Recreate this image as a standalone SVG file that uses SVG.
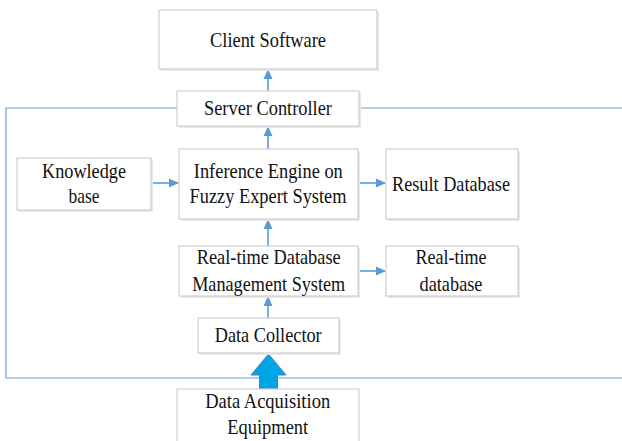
<svg xmlns="http://www.w3.org/2000/svg" width="622" height="441" viewBox="0 0 622 441">
<style>
.box{fill:#fff;stroke:#cfcfcf;stroke-width:1.2}
.sh{fill:#e8e8e8}
.t{font-family:"Liberation Serif","Times New Roman",serif;font-size:21.5px;fill:#111;text-anchor:middle}
.c{stroke:#5b9bd5;stroke-width:1.6;fill:none}
.frame{stroke:#6f9fd3;stroke-width:1.2;fill:none}
</style>
<defs>
<marker id="ah" markerWidth="10" markerHeight="10" refX="9" refY="5" orient="auto" markerUnits="userSpaceOnUse">
<path d="M0,0.5 L10,5 L0,9.5 Z" fill="#5b9bd5"/>
</marker>
</defs>
<rect x="0" y="0" width="622" height="441" fill="#fff"/>
<g id="frame"><path class="frame" d="M177,108 H6 V378 H622 M359,108 H622"/></g>
<g id="connectors">
<line class="c" x1="268" y1="91" x2="268" y2="70" marker-end="url(#ah)"/>
<line class="c" x1="268" y1="149" x2="268" y2="127" marker-end="url(#ah)"/>
<line class="c" x1="151" y1="183" x2="178" y2="183" marker-end="url(#ah)"/>
<line class="c" x1="358" y1="183" x2="385" y2="183" marker-end="url(#ah)"/>
<line class="c" x1="268" y1="246" x2="268" y2="220" marker-end="url(#ah)"/>
<line class="c" x1="358" y1="271" x2="385" y2="271" marker-end="url(#ah)"/>
<line class="c" x1="268" y1="318" x2="268" y2="297" marker-end="url(#ah)"/>
<path d="M259.5,389 V375 H251 L268.5,354 L286,375 H277.5 V389 Z" fill="#00a5e6" stroke="#3b86c6" stroke-width="1"/>
</g>
<g id="client"><rect class="sh" x="161" y="12" width="218" height="59"/><rect class="box" x="159" y="10" width="218" height="59"/><text class="t" x="268" y="47" textLength="116" lengthAdjust="spacingAndGlyphs">Client Software</text></g>
<g id="server"><rect class="sh" x="179" y="93" width="182" height="35"/><rect class="box" x="177" y="91" width="182" height="35"/><text class="t" x="268" y="115" textLength="128" lengthAdjust="spacingAndGlyphs">Server Controller</text></g>
<g id="knowledge"><rect class="sh" x="19" y="160" width="134" height="52"/><rect class="box" x="17" y="158" width="134" height="52"/><text class="t" x="84" y="178" textLength="84" lengthAdjust="spacingAndGlyphs">Knowledge</text><text class="t" x="84" y="203" textLength="31" lengthAdjust="spacingAndGlyphs">base</text></g>
<g id="inference"><rect class="sh" x="181" y="151" width="179" height="70"/><rect class="box" x="179" y="149" width="179" height="70"/><text class="t" x="268.3" y="178" textLength="149" lengthAdjust="spacingAndGlyphs">Inference Engine on</text><text class="t" x="268" y="203" textLength="157" lengthAdjust="spacingAndGlyphs">Fuzzy Expert System</text></g>
<g id="result"><rect class="sh" x="388" y="151" width="132" height="70"/><rect class="box" x="386" y="149" width="132" height="70"/><text class="t" x="451" y="191" textLength="118" lengthAdjust="spacingAndGlyphs">Result Database</text></g>
<g id="rtdbms"><rect class="sh" x="181" y="248" width="179" height="50"/><rect class="box" x="179" y="246" width="179" height="50"/><text class="t" x="268.7" y="264" textLength="144" lengthAdjust="spacingAndGlyphs">Real-time Database</text><text class="t" x="268.7" y="291" textLength="153" lengthAdjust="spacingAndGlyphs">Management System</text></g>
<g id="rtdb"><rect class="sh" x="388" y="248" width="132" height="50"/><rect class="box" x="386" y="246" width="132" height="50"/><text class="t" x="451" y="264" textLength="71" lengthAdjust="spacingAndGlyphs">Real-time</text><text class="t" x="451" y="291" textLength="63" lengthAdjust="spacingAndGlyphs">database</text></g>
<g id="collector"><rect class="sh" x="200" y="320" width="141" height="35"/><rect class="box" x="198" y="318" width="141" height="35"/><text class="t" x="268.2" y="342" textLength="107" lengthAdjust="spacingAndGlyphs">Data Collector</text></g>
<g id="acquisition"><rect class="box" x="177" y="389" width="182" height="60"/><text class="t" x="267.7" y="408" textLength="125" lengthAdjust="spacingAndGlyphs">Data Acquisition</text><text class="t" x="267.7" y="434" textLength="81" lengthAdjust="spacingAndGlyphs">Equipment</text></g>
</svg>
